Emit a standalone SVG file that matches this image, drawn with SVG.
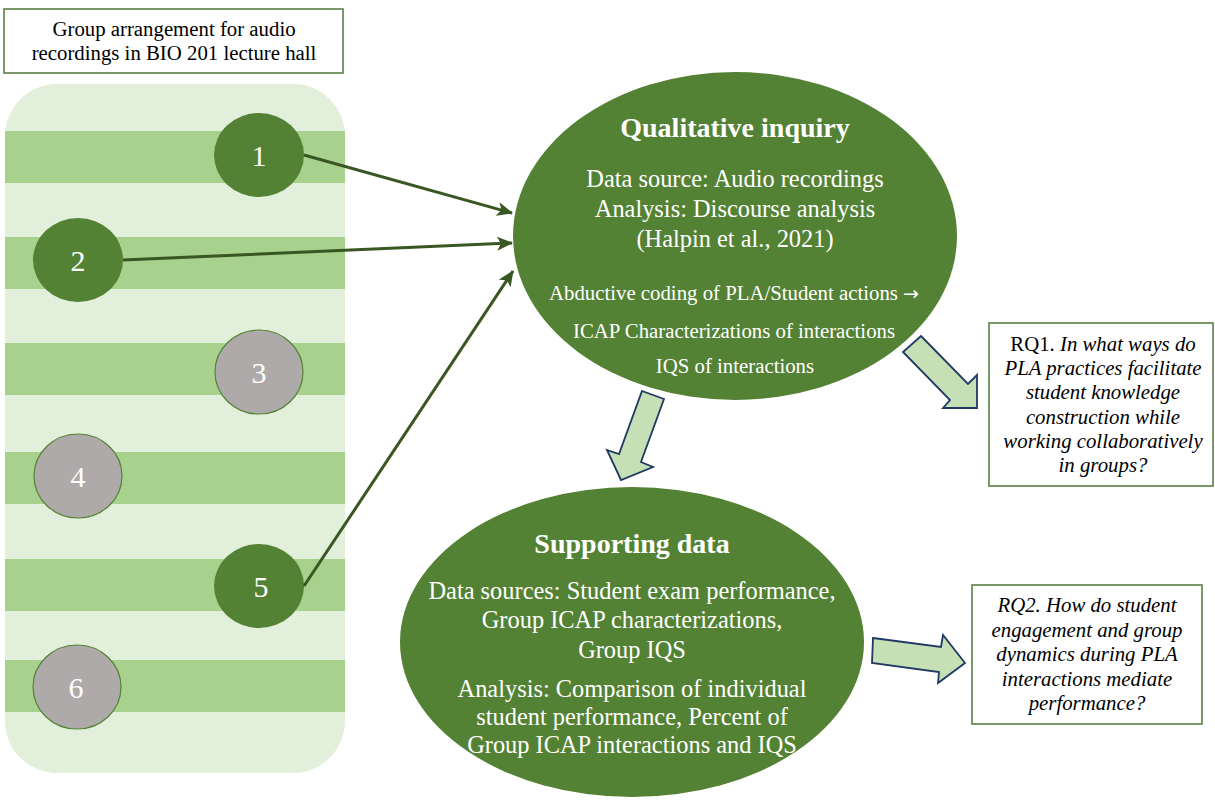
<svg xmlns="http://www.w3.org/2000/svg" width="1215" height="804" viewBox="0 0 1215 804">
  <style>
    .box { fill: #ffffff; stroke: #5b8043; stroke-width: 1.6; }
    .stripe { fill: #a9d18e; }
    .seat-on { fill: #548235; }
    .seat-off { fill: #aeaaaa; stroke: #548235; stroke-width: 1.2; }
    .num { font-family: "Liberation Serif", "Times New Roman", serif; font-size: 30px; fill: #ffffff; text-anchor: middle; }
    .oval { fill: #548235; }
    .head { font-family: "Liberation Serif", "Times New Roman", serif; font-weight: bold; font-size: 28px; fill: #ffffff; text-anchor: middle; }
    .body { font-family: "Liberation Serif", "Times New Roman", serif; font-size: 24.4px; fill: #ffffff; text-anchor: middle; }
    .small { font-family: "Liberation Serif", "Times New Roman", serif; font-size: 20.8px; fill: #ffffff; text-anchor: middle; }
    .label { font-family: "Liberation Serif", "Times New Roman", serif; font-size: 20.8px; fill: #000000; text-anchor: middle; }
    .block { fill: #c5e0b4; stroke: #203864; stroke-width: 1.8; stroke-linejoin: miter; }
    .link { stroke: #385723; stroke-width: 3; fill: none; }
  </style>
  <defs>
    <marker id="tip" markerUnits="userSpaceOnUse" markerWidth="16" markerHeight="14" viewBox="0 0 16 14" refX="15" refY="7" orient="auto">
      <path d="M0,0 L16,7 L0,14 L4,7 Z" fill="#385723"/>
    </marker>
  </defs>

  <!-- Caption box -->
  <g id="caption">
    <rect class="box" x="4" y="9" width="339" height="64"/>
    <text class="label" x="174" y="36">Group arrangement for audio</text>
    <text class="label" x="174" y="60">recordings in BIO 201 lecture hall</text>
  </g>

  <!-- Lecture hall floor with rows -->
  <g id="hall">
    <rect x="5" y="84" width="340" height="689" rx="52" ry="52" fill="#e2efda"/>
    <rect class="stripe" x="5" y="131" width="340" height="52"/>
    <rect class="stripe" x="5" y="237" width="340" height="52"/>
    <rect class="stripe" x="5" y="343" width="340" height="52"/>
    <rect class="stripe" x="5" y="452" width="340" height="52"/>
    <rect class="stripe" x="5" y="559" width="340" height="52"/>
    <rect class="stripe" x="5" y="660" width="340" height="52"/>
  </g>

  <!-- Groups -->
  <g id="group1">
    <ellipse class="seat-on" cx="259" cy="155" rx="45" ry="42"/>
    <text class="num" x="259" y="166">1</text>
  </g>
  <g id="group2">
    <ellipse class="seat-on" cx="78" cy="260" rx="45" ry="42"/>
    <text class="num" x="78" y="271">2</text>
  </g>
  <g id="group3">
    <ellipse class="seat-off" cx="259" cy="372" rx="44" ry="42"/>
    <text class="num" x="259" y="383">3</text>
  </g>
  <g id="group4">
    <ellipse class="seat-off" cx="78" cy="476" rx="44" ry="42"/>
    <text class="num" x="78" y="487">4</text>
  </g>
  <g id="group5">
    <ellipse class="seat-on" cx="259" cy="586" rx="45" ry="42"/>
    <text class="num" x="261" y="597">5</text>
  </g>
  <g id="group6">
    <ellipse class="seat-off" cx="77" cy="687" rx="44" ry="42"/>
    <text class="num" x="76" y="698">6</text>
  </g>

  <!-- Recording links into the qualitative inquiry -->
  <g id="connectors">
    <line class="link" x1="304" y1="155" x2="512" y2="213" marker-end="url(#tip)"/>
    <line class="link" x1="123" y1="260" x2="512" y2="243" marker-end="url(#tip)"/>
    <line class="link" x1="304" y1="586" x2="513" y2="271" marker-end="url(#tip)"/>
  </g>

  <!-- Qualitative inquiry -->
  <g id="qualitative">
    <ellipse class="oval" cx="735" cy="236" rx="222" ry="164"/>
    <text class="head" x="735" y="137">Qualitative inquiry</text>
    <text class="body" x="735" y="187">Data source: Audio recordings</text>
    <text class="body" x="735" y="217">Analysis: Discourse analysis</text>
    <text class="body" x="735" y="247">(Halpin et al., 2021)</text>
    <text class="small" x="734" y="300">Abductive coding of PLA/Student actions <tspan font-family="DejaVu Sans, sans-serif" font-size="19px">→</tspan></text>
    <text class="small" x="734" y="338">ICAP Characterizations of interactions</text>
    <text class="small" x="735" y="373">IQS of interactions</text>
  </g>

  <!-- Block arrows -->
  <g id="arrow-rq1">
    <polygon class="block" points="921,336 968,384 977,375 977,408 943,408 950,400 903,352"/>
  </g>
  <g id="arrow-down">
    <polygon class="block" points="642,391 664,399 641,462 653,467 621,480 607,450 619,454"/>
  </g>
  <g id="arrow-rq2">
    <polygon class="block" points="873,638 941,647 943,635 965,663 938,683 939,672 872,663"/>
  </g>

  <!-- Research question 1 -->
  <g id="rq1">
    <rect class="box" x="989" y="323" width="224" height="163"/>
    <text class="label" x="1103" y="351">RQ1. <tspan font-style="italic">In what ways do</tspan></text>
    <text class="label" x="1103" y="375" font-style="italic">PLA practices facilitate</text>
    <text class="label" x="1103" y="399" font-style="italic">student knowledge</text>
    <text class="label" x="1103" y="424" font-style="italic">construction while</text>
    <text class="label" x="1103" y="448" font-style="italic">working collaboratively</text>
    <text class="label" x="1103" y="472" font-style="italic">in groups?</text>
  </g>

  <!-- Supporting data -->
  <g id="supporting">
    <ellipse class="oval" cx="632" cy="642" rx="232" ry="155"/>
    <text class="head" x="632" y="553">Supporting data</text>
    <text class="body" x="632" y="599">Data sources: Student exam performance,</text>
    <text class="body" x="632" y="628">Group ICAP characterizations,</text>
    <text class="body" x="632" y="658">Group IQS</text>
    <text class="body" x="632" y="697">Analysis: Comparison of individual</text>
    <text class="body" x="632" y="725">student performance, Percent of</text>
    <text class="body" x="632" y="753">Group ICAP interactions and IQS</text>
  </g>

  <!-- Research question 2 -->
  <g id="rq2">
    <rect class="box" x="972" y="585" width="230" height="139"/>
    <text class="label" x="1087" y="612" font-style="italic">RQ2. How do student</text>
    <text class="label" x="1087" y="637" font-style="italic">engagement and group</text>
    <text class="label" x="1087" y="661" font-style="italic">dynamics during PLA</text>
    <text class="label" x="1087" y="686" font-style="italic">interactions mediate</text>
    <text class="label" x="1087" y="710" font-style="italic">performance?</text>
  </g>
</svg>
